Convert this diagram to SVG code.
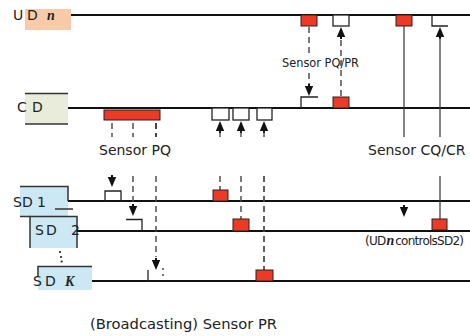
<svg xmlns="http://www.w3.org/2000/svg" width="470" height="336" viewBox="0 0 470 336">
<defs>
<style>
.lbl{font-family:"DejaVu Sans",Verdana,sans-serif;font-size:14px;fill:#222}
.it{font-family:"Liberation Serif",serif;font-style:italic;font-weight:bold}
.axis{stroke:#111;stroke-width:2;fill:none}
.bd{stroke:#333;stroke-width:1.5;fill:none}
.dash{stroke:#444;stroke-width:1.4;stroke-dasharray:6 4;fill:none}
.solid{stroke:#333;stroke-width:1.2;fill:none}
.pulse{stroke:#222;stroke-width:1.3;fill:none}
.red{fill:#ee3a24;stroke:#222;stroke-width:1}
.wbox{fill:#fff;stroke:#222;stroke-width:1.3}
.cond{font-family:"DejaVu Sans",Verdana,sans-serif;font-size:12px;fill:#222;letter-spacing:-0.75px}
</style>
<path id="ad" d="M0,0 L-4.2,-10 L4.2,-10 Z M-1,-10 V-12 H1 V-10 Z" fill="#111"/>
<path id="au" d="M0,0 L-4.2,10 L4.2,10 Z M-1,10 V12 H1 V10 Z" fill="#111"/>
</defs>

<g id="node-UD">
<rect x="25" y="9" width="46" height="21" fill="#f8cba8"/>
<line class="axis" x1="71" y1="15" x2="470" y2="15"/>
<text class="lbl" y="20"><tspan x="13">U</tspan><tspan x="27">D</tspan><tspan class="it" x="47">n</tspan></text>
</g>

<g id="node-CD">
<rect x="25" y="93" width="43" height="31" fill="#eaecdb"/>
<line class="bd" x1="25" y1="93.5" x2="68" y2="93.5"/>
<line class="bd" x1="25" y1="124" x2="68" y2="124"/>
<line class="axis" x1="68" y1="108" x2="470" y2="108"/>
<text class="lbl" y="112"><tspan x="17">C</tspan><tspan x="32">D</tspan></text>
</g>

<g id="node-SD1">
<rect x="20" y="186" width="48" height="30" fill="#cde8f5"/>
<path class="bd" d="M20,186.5 H68 V201"/>
<line class="bd" x1="20" y1="216.5" x2="30" y2="216.5"/>
<line class="axis" x1="68" y1="201" x2="470" y2="201"/>
<line class="bd" x1="55" y1="209" x2="73" y2="209"/>
<text class="lbl" x="13" y="206.5">SD 1</text>
</g>

<g id="node-SD2">
<rect x="30" y="216" width="47" height="32" fill="#cde8f5"/>
<path class="bd" d="M30,248 V216.5 H77 V248"/>
<line class="axis" x1="77" y1="231" x2="470" y2="231"/>
<text class="lbl" y="235"><tspan x="35">S</tspan><tspan x="46">D</tspan><tspan x="71">2</tspan></text>
</g>

<g id="node-SDK">
<rect x="38" y="266" width="54" height="24" fill="#cde8f5"/>
<path class="bd" d="M38,276 V266.5 H92"/>
<line class="axis" x1="92" y1="281" x2="470" y2="281"/>
<text class="lbl" y="286"><tspan x="33">S</tspan><tspan x="45">D</tspan><tspan class="it" x="65">K</tspan></text>
<circle cx="60" cy="252" r="1.1" fill="#222"/>
<circle cx="61" cy="257" r="1.1" fill="#222"/>
<circle cx="61.7" cy="261.5" r="1.1" fill="#222"/>
</g>

<g id="connectors">
<rect class="red" x="301" y="15" width="16" height="11"/>
<line class="dash" x1="309" y1="27" x2="309" y2="55"/>
<line class="dash" x1="309" y1="73" x2="309" y2="84"/>
<use href="#ad" x="309" y="96"/>
<path class="pulse" d="M301,108 V97 H318"/>

<rect class="wbox" x="333" y="15" width="16" height="11"/>
<use href="#au" x="341" y="27"/>
<line class="dash" x1="341" y1="40" x2="341" y2="97"/>
<rect class="red" x="333" y="97" width="16" height="11"/>

<rect class="red" x="396" y="15" width="16" height="11"/>
<line class="solid" x1="404" y1="26" x2="404" y2="137"/>

<path class="pulse" d="M432,15 V26 H448"/>
<use href="#au" x="440" y="27"/>
<line class="solid" x1="440" y1="38" x2="440" y2="137"/>
<line class="solid" x1="440" y1="176" x2="440" y2="219"/>
<rect class="red" x="432" y="219" width="15" height="11"/>
<use href="#ad" x="404" y="217"/>

<rect class="red" x="104" y="110" width="56" height="10"/>
<line class="dash" x1="112" y1="123" x2="112" y2="137"/>
<line class="dash" x1="133" y1="123" x2="133" y2="137"/>
<line class="dash" x1="156" y1="123" x2="156" y2="137" style="stroke-width:2"/>
<use href="#ad" x="112" y="187"/>
<path class="pulse" d="M105,201 V191 H121 V201"/>
<line class="dash" x1="133" y1="176" x2="133" y2="205"/>
<use href="#ad" x="133" y="216"/>
<path class="pulse" d="M126,219.5 H142 V231"/>
<line class="dash" x1="156" y1="176" x2="156" y2="257"/>
<use href="#ad" x="156" y="270"/>
<line class="pulse" x1="148" y1="270" x2="148" y2="281"/>
<line class="dash" x1="163" y1="268" x2="163" y2="280" style="stroke-dasharray:2 4"/>

<rect class="wbox" x="212" y="108" width="17" height="12"/>
<rect class="wbox" x="233" y="108" width="16" height="12"/>
<rect class="wbox" x="257" y="108" width="15" height="12"/>
<use href="#au" x="220" y="121"/>
<use href="#au" x="241" y="121"/>
<use href="#au" x="264" y="121"/>
<line class="solid" x1="220" y1="131" x2="220" y2="137"/>
<line class="solid" x1="241" y1="131" x2="241" y2="137"/>
<line class="solid" x1="264" y1="131" x2="264" y2="137"/>
<line class="dash" x1="220" y1="176" x2="220" y2="190"/>
<rect class="red" x="213" y="190" width="15" height="11"/>
<line class="dash" x1="241" y1="176" x2="241" y2="219"/>
<rect class="red" x="233" y="219" width="16" height="12"/>
<line class="dash" x1="264" y1="176" x2="264" y2="270" style="stroke-width:1.7"/>
<rect class="red" x="256" y="270" width="17" height="11"/>
</g>

<g id="labels">
<text class="lbl" x="282" y="67" textLength="77" lengthAdjust="spacingAndGlyphs" style="font-size:13px">Sensor PQ/PR</text>
<text class="lbl" x="99" y="155">Sensor PQ</text>
<text class="lbl" x="368" y="155">Sensor CQ/CR</text>
<text class="cond" x="365" y="245">(UD<tspan class="it" style="font-size:14px;letter-spacing:0" dx="1">n</tspan><tspan dx="1">controlsSD2)</tspan></text>
<text class="lbl" x="90" y="329" textLength="187" lengthAdjust="spacingAndGlyphs">(Broadcasting) Sensor PR</text>
</g>
</svg>
